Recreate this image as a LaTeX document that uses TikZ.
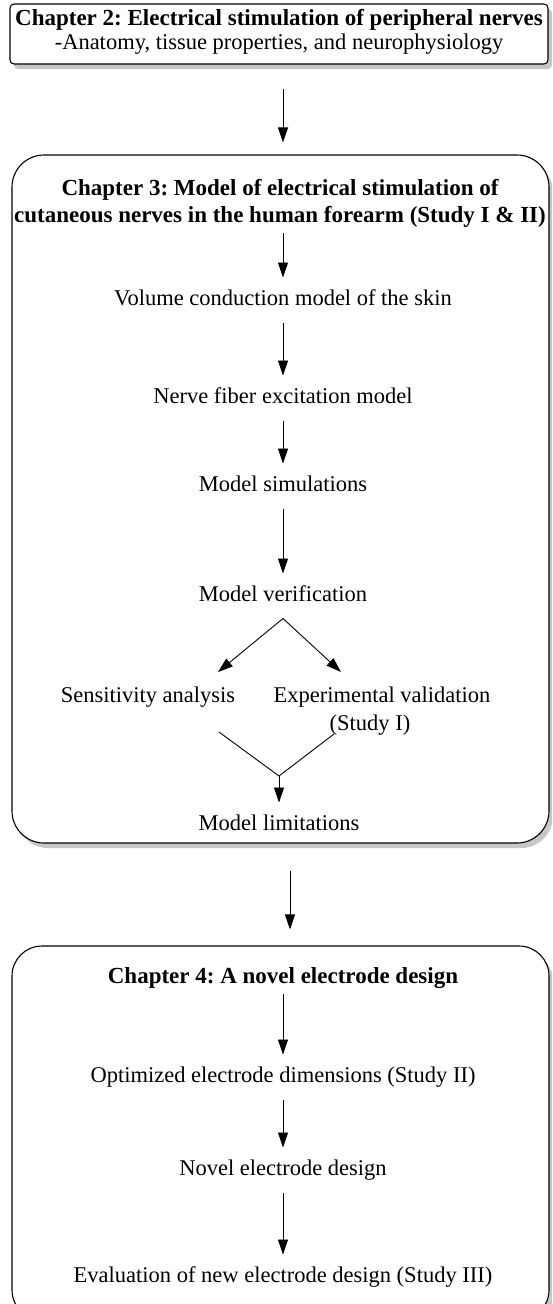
\documentclass[tikz,border=0pt]{standalone}
\usepackage{fontspec}
\setmainfont{Liberation Serif}
\usetikzlibrary{arrows.meta,shadows}

\newcommand\bodysize{\fontsize{22.5}{28}\selectfont\frenchspacing}
\newcommand\ttlsize{\fontsize{23}{28}\selectfont\frenchspacing\bfseries}

\tikzset{
  chapbox/.style={draw, line width=1.1pt, fill=white, rounded corners=#1,
    drop shadow={shadow xshift=4pt, shadow yshift=-5pt, fill=black!22, opacity=1}},
  steptxt/.style={anchor=base, inner sep=0pt, text height=15pt, text depth=5pt,
    outer ysep=12.5pt, font=\bodysize},
  ttlline/.style={anchor=base, inner sep=0pt, text height=15pt, text depth=5pt,
    outer ysep=6pt, font=\ttlsize},
  arr/.style={-{Triangle[length=15pt,width=10pt]}, line width=0.9pt},
  joinline/.style={line width=0.9pt},
}

\begin{document}
\begin{tikzpicture}[x=1pt,y=-1pt]
\useasboundingbox (0,0) rectangle (552,1304);
\clip (0,0) rectangle (552,1304);

% chapter boxes
\node[chapbox=4pt, minimum width=538pt, minimum height=60pt] (ch2) at (279,34) {};
\node[chapbox=32pt, minimum width=537pt, minimum height=688pt] (ch3) at (280.5,499) {};
\node[chapbox=30pt, minimum width=537pt, minimum height=374pt] (ch4) at (280.5,1133) {};

% chapter 2
\node[ttlline] (ch2a) at (279,25) {Chapter 2: Electrical stimulation of peripheral nerves};
\node[steptxt] (ch2b) at (279,49) {-Anatomy, tissue properties, and neurophysiology};

% chapter 3
\node[ttlline] (ch3a) at (280,195) {Chapter 3: Model of electrical stimulation of};
\node[ttlline] (ch3b) at (280,222) {cutaneous nerves in the human forearm (Study I \& II)};
\node[steptxt] (vol) at (283,305) {Volume conduction model of the skin};
\node[steptxt] (nerve) at (283,403) {Nerve fiber excitation model};
\node[steptxt] (sim) at (283,491) {Model simulations};
\node[steptxt] (ver) at (283,601) {Model verification};
\node[steptxt] (sens) at (148,702) {Sensitivity analysis};
\node[steptxt] (expv) at (382,702) {Experimental validation};
\node[steptxt] (expst) at (370,730) {(Study I)};
\node[steptxt] (lim) at (279,830) {Model limitations};

\coordinate (sensin) at (218,672);
\coordinate (expin) at (341,672);
\coordinate (sensout) at (219,732);
\coordinate (expout) at (334,734);
\coordinate (mrg) at (279,776);

% chapter 4
\node[ttlline] (ch4a) at (283,983) {Chapter 4: A novel electrode design};
\node[steptxt] (opt) at (283,1082) {Optimized electrode dimensions (Study II)};
\node[steptxt] (novel) at (283,1175) {Novel electrode design};
\node[steptxt] (eval) at (283,1282) {Evaluation of new electrode design (Study III)};

% arrows
\draw[arr] ([yshift=-24pt]ch2.south -| vol) -- ([yshift=12pt]ch3.north -| vol);
\draw[arr] (ch3b.south -| vol) -- (vol);
\draw[arr] (vol) -- (nerve);
\draw[arr] (nerve) -- (sim);
\draw[arr] (sim) -- (ver);
\draw[arr] (ver.south) -- (sensin);
\draw[arr] (ver.south) -- (expin);
\draw[joinline] (sensout) -- (mrg) -- (expout);
\draw[arr] (mrg) -- (mrg |- lim.north);
\draw[arr] ([xshift=9.5pt,yshift=-27pt]ch3.south) -- ([xshift=9.5pt,yshift=16pt]ch4.north);
\draw[arr] (ch4a) -- (opt);
\draw[arr] (opt) -- (novel);
\draw[arr] (novel) -- (eval);

\end{tikzpicture}
\end{document}
